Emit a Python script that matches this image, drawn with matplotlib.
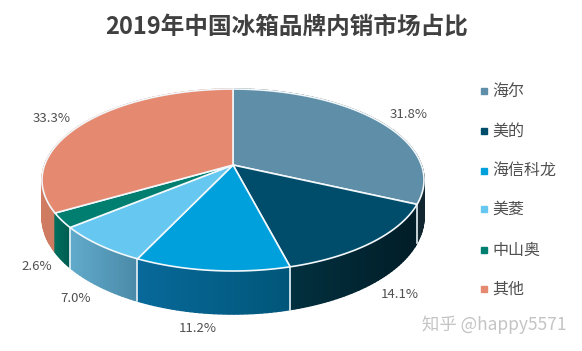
import numpy as np
import matplotlib
matplotlib.use("Agg")
import matplotlib.pyplot as plt
from matplotlib.patches import Rectangle

plt.rcParams['font.family'] = ['Noto Sans CJK SC', 'DejaVu Sans']

title = "2019年中国冰箱品牌内销市场占比"
brands = ["海尔", "美的", "海信科龙", "美菱", "中山奥", "其他"]
shares = [31.8, 14.1, 11.2, 7.0, 2.6, 33.3]

top_colors = ["#5f8ea8", "#004d6b", "#00a0dc", "#66c8f0", "#007f70", "#e58a70"]
wall_left = ["#24434f", "#02303f", "#08699a", "#62abcc", "#00705f", "#d07c62"]
wall_right = ["#12262f", "#011d27", "#01567a", "#4a8aa8", "#005c50", "#b9674f"]
label_pos = [(409, 115), (400, 294), (198, 329), (76, 298), (37, 267), (52, 119)]
legend_y = [91, 131, 171, 209, 250, 289]

# pie is drawn in pixel coords, tilted with a simple perspective
cx, cy = 233, 165
A, B, k = 188.4, 88.5, 0.165
depth = 36


def rim(theta):
    w = 1 + k * np.cos(theta)
    return cx + A * np.sin(theta) / w, cy - B * np.cos(theta) / w


def wall_depth(theta):
    return depth / (1 + k * np.cos(theta))


def mix(c1, c2, t):
    c1 = np.array(matplotlib.colors.to_rgb(c1))
    c2 = np.array(matplotlib.colors.to_rgb(c2))
    return tuple(c1 + (c2 - c1) * t)


fig = plt.figure(figsize=(5.82, 3.51), dpi=100)
ax = fig.add_axes([0, 0, 1, 1])
ax.set_xlim(0, 582)
ax.set_ylim(351, 0)
ax.axis("off")

edges = np.cumsum([0] + shares) / sum(shares) * 2 * np.pi

# side wall, small strips from back to front so the gradient shows
strips = []
for i in range(len(shares)):
    th = np.linspace(edges[i], edges[i + 1], max(int(shares[i] * 3), 4) + 1)
    xs = rim(th)[0]
    for a, b in zip(th[:-1], th[1:]):
        xa, ya = rim(a)
        xb, yb = rim(b)
        t = ((xa + xb) / 2 - xs.min()) / max(xs.max() - xs.min(), 1)
        strips.append(((ya + yb) / 2, a, b, mix(wall_left[i], wall_right[i], t)))
strips.sort(key=lambda s: s[0])
for _, a, b, col in strips:
    xa, ya = rim(a)
    xb, yb = rim(b)
    ax.fill([xa, xb, xb, xa], [ya, yb, yb + wall_depth(b), ya + wall_depth(a)],
            facecolor=col, edgecolor=col, lw=1.0, zorder=1)

# white seams on the wall
for e in edges[1:5]:
    x, y = rim(e)
    ax.plot([x, x], [y, y + wall_depth(e)], color="#e8f2f6", lw=1.2, zorder=2)

# top face
for i in range(len(shares)):
    th = np.linspace(edges[i], edges[i + 1], 120)
    x, y = rim(th)
    ax.fill(np.r_[cx, x], np.r_[cy, y], facecolor=top_colors[i], edgecolor="#f2f8fb",
            lw=1.2, joinstyle="round", zorder=3)

for i in range(len(shares)):
    ax.text(label_pos[i][0], label_pos[i][1], f"{shares[i]:.1f}%", fontsize=9.5,
            color="#505050", ha="center", va="center")

for i in range(len(brands)):
    ax.add_patch(Rectangle((481, legend_y[i] - 3), 6, 6, color=top_colors[i]))
    ax.text(492, legend_y[i], brands[i], fontsize=11.5, color="#505050", va="center")

ax.text(287, 27, title, fontsize=17, fontweight="bold", color="#404040",
        ha="center", va="center")
ax.text(567, 325, "知乎 @happy5571", fontsize=12.5, color="#c4c4c4", ha="right", va="center")

fig.savefig("out.png", dpi=100)
